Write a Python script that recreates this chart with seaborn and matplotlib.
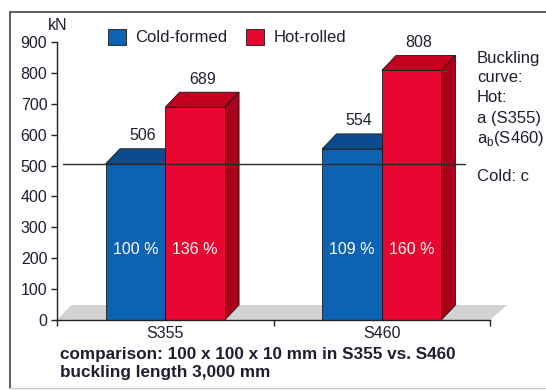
import matplotlib
matplotlib.use("Agg")
import matplotlib.pyplot as plt
from matplotlib.patches import Polygon
from matplotlib.lines import Line2D
import seaborn as sns
import pandas as pd

# Buckling resistance of 100 x 100 x 10 mm hollow sections
grades = ["S355", "S460"]
types = ["Cold-formed", "Hot-rolled"]
cold_kn = [506, 554]
hot_kn = [689, 808]
cold_pct = ["100 %", "109 %"]
hot_pct = ["136 %", "160 %"]
reference_kn = 506
y_ticks = [0, 100, 200, 300, 400, 500, 600, 700, 800, 900]
side_notes = ["Buckling", "curve:", "Hot:", "a (S355)", r"a$_\mathregular{b}$(S460)"]
cold_note = "Cold: c"
caption = ["comparison: 100 x 100 x 10 mm in S355 vs. S460",
           "buckling length 3,000 mm"]

df = pd.DataFrame({
    "grade": grades * 2,
    "type": [types[0]] * len(grades) + [types[1]] * len(grades),
    "kN": cold_kn + hot_kn,
})
pct_labels = {types[0]: cold_pct, types[1]: hot_pct}

sns.set_theme(style="white")
plt.rcParams["font.family"] = ["Liberation Sans", "DejaVu Sans"]

front = {types[0]: "#0d63b3", types[1]: "#e8052f"}
top = {types[0]: "#0a4c8e", types[1]: "#c4001f"}
side = {types[0]: "#083d73", types[1]: "#a9001b"}
ink = "#1e1e30"
edge = "#1a1a1a"

W, H = 546, 390
fig = plt.figure(figsize=(W / 100, H / 100), dpi=100)
fig.patch.set_facecolor("white")
ax = fig.add_axes([57 / W, 70 / H, 433 / W, 278 / H])

sns.barplot(data=df, x="grade", y="kN", hue="type", order=grades,
            hue_order=types, palette=front, width=0.55, saturation=1,
            edgecolor=edge, linewidth=0.6, ax=ax)

handles, labels = ax.get_legend_handles_labels()
if ax.get_legend() is not None:
    ax.get_legend().remove()

ax.set_xlim(-0.5, 1.5)
ax.set_ylim(0, 900)

# depth of the pseudo-3D bars, in data units
dx = 0.066
dy = 48.5

# floor shadow
floor = Polygon([(-0.5, 0), (1.5, 0), (1.5 + dx * 1.2, dy), (-0.5 + dx, dy)],
                closed=True, facecolor="#d3d3d3", edgecolor="none",
                zorder=0.5, clip_on=False)
ax.add_patch(floor)

for level, container in zip(types, ax.containers):
    z = 3 if level == types[0] else 4
    for bar, pct in zip(container.patches, pct_labels[level]):
        bar.set_zorder(z + 0.2)
        x0, w, h = bar.get_x(), bar.get_width(), bar.get_height()
        x1 = x0 + w
        ax.add_patch(Polygon([(x0, h), (x1, h), (x1 + dx, h + dy), (x0 + dx, h + dy)],
                             closed=True, facecolor=top[level], edgecolor=edge,
                             linewidth=0.6, zorder=z, clip_on=False))
        ax.add_patch(Polygon([(x1, 0), (x1 + dx, dy), (x1 + dx, h + dy), (x1, h)],
                             closed=True, facecolor=side[level], edgecolor=edge,
                             linewidth=0.6, zorder=z, clip_on=False))
        ax.text(x0 + w / 2 + dx / 2, h + dy + 18, f"{h:.0f}", ha="center",
                va="bottom", fontsize=11.5, color=ink, zorder=6)
        ax.text(x0 + w / 2, 227, pct, ha="center", va="center",
                fontsize=11.5, color="white", zorder=6)

# reference line at the cold-formed S355 capacity
ax.plot([-0.472, 1.385], [reference_kn, reference_kn], color="#2a2a2a",
        linewidth=1.0, zorder=7, clip_on=False)

# axes styling
for s in ["top", "right"]:
    ax.spines[s].set_visible(False)
for s in ["left", "bottom"]:
    ax.spines[s].set_color("#222222")
    ax.spines[s].set_linewidth(1.0)
    ax.spines[s].set_zorder(8)
ax.set_yticks(y_ticks)
ax.set_yticklabels([str(v) for v in y_ticks])
ax.set_xticks([-0.5, 0.5, 1.5])
ax.set_xticklabels(["", "", ""])
ax.set_xticks([0, 1], minor=True)
ax.set_xticklabels(grades, minor=True)
ax.tick_params(axis="y", which="major", direction="out", length=4, width=1,
               color="#222222", labelsize=11.5, labelcolor=ink, pad=3, left=True)
ax.tick_params(axis="x", which="major", direction="out", length=4, width=1,
               color="#222222", bottom=True)
ax.tick_params(axis="x", which="minor", length=0, labelsize=11.5,
               labelcolor=ink, pad=4)
ax.set_xlabel("")
ax.set_ylabel("")
ax.grid(False)

fig.text(58 / W, 1 - 26 / H, "kN", ha="center", va="center", fontsize=11.5, color=ink)

leg = fig.legend(handles, labels, loc="center left",
                 bbox_to_anchor=(108 / W, 1 - 37 / H), ncol=2, frameon=False,
                 fontsize=12, handlelength=1.1, handleheight=1.1,
                 handletextpad=0.55, columnspacing=1.1, borderpad=0,
                 borderaxespad=0)
for t in leg.get_texts():
    t.set_color(ink)

for i, line in enumerate(side_notes):
    fig.text(477 / W, 1 - (58 + i * 20) / H, line, ha="left", va="center",
             fontsize=12, color=ink)
fig.text(477 / W, 1 - 177 / H, cold_note, ha="left", va="center",
         fontsize=12, color=ink)

for i, line in enumerate(caption):
    fig.text(60 / W, 1 - (355 + i * 18) / H, line, ha="left", va="center",
             fontsize=12.3, fontweight="bold", color=ink)

# frame around the figure
fig.add_artist(Line2D([10 / W, 1.0], [1 - 12 / H, 1 - 12 / H],
                      transform=fig.transFigure, color="#444444", linewidth=1.2))
fig.add_artist(Line2D([10 / W, 10 / W], [1 - 12 / H, 1 - 388 / H],
                      transform=fig.transFigure, color="#444444", linewidth=1.2))
fig.add_artist(Line2D([10 / W, 1.0], [1 - 388 / H, 1 - 388 / H],
                      transform=fig.transFigure, color="#cccccc", linewidth=1.0))

fig.savefig("out.png", dpi=100, facecolor="white")
